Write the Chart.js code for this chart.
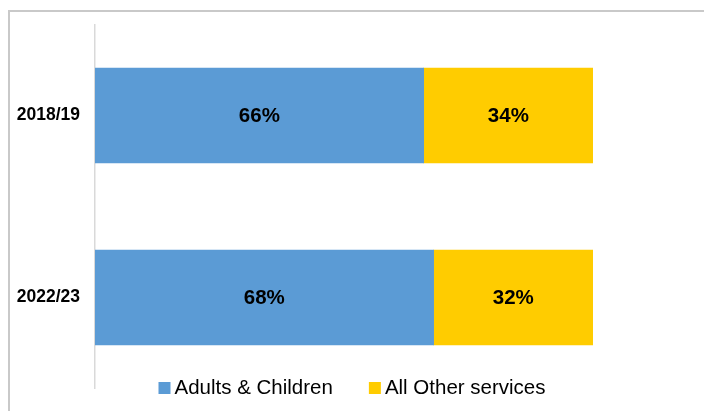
<!DOCTYPE html>
<html>
<head>
<meta charset="utf-8">
<script src="https://cdn.jsdelivr.net/npm/chart.js@4.4.1/dist/chart.umd.min.js"></script>
<style>
  html, body { margin:0; padding:0; background:#fff; }
  #wrap { position:relative; width:704px; height:411px; }
</style>
</head>
<body>
<div id="wrap"><canvas id="shareChart" width="704" height="411"></canvas></div>
<script>
// ----- data -----
const years = ["2018/19", "2022/23"];
const adultsChildren = [66, 68];
const otherServices = [34, 32];
const seriesNames = ["Adults & Children", "All Other services"];
const seriesColors = ["#5B9BD5", "#FFCC00"];

const FONT = "'Liberation Sans', Arial, sans-serif";

// outer frame (left + top edges only show inside the canvas)
const framePlugin = {
  id: "frame",
  beforeDraw(chart){
    const c = chart.ctx;
    c.save();
    c.strokeStyle = "#c9c9c9";
    c.lineWidth = 2;
    c.strokeRect(9, 11, 800, 500);
    c.restore();
  }
};

// percentage text in the middle of every segment
const valueLabels = {
  id: "valueLabels",
  afterDatasetsDraw(chart){
    const c = chart.ctx;
    c.save();
    c.font = "bold 20.5px " + FONT;
    c.fillStyle = "#000";
    c.textAlign = "center";
    c.textBaseline = "middle";
    chart.data.datasets.forEach((ds, i) => {
      chart.getDatasetMeta(i).data.forEach((bar, j) => {
        const mid = (bar.x + bar.base) / 2;
        c.fillText(ds.data[j] + "%", mid, bar.y + 1);
      });
    });
    c.restore();
  }
};

// legend drawn across the bottom, over the axis end
const bottomLegend = {
  id: "bottomLegend",
  afterDraw(chart){
    const c = chart.ctx;
    c.save();
    c.font = "20.5px " + FONT;
    c.textBaseline = "middle";
    const box = 12, gapText = 4, gapItem = 36;
    const items = chart.data.datasets.map(ds => ({ label: ds.label, color: ds.backgroundColor, w: c.measureText(ds.label).width }));
    let total = items.reduce((s, it) => s + box + gapText + it.w, 0) + gapItem * (items.length - 1);
    let x = chart.width / 2 - total / 2;
    const y = 388;
    items.forEach(it => {
      c.fillStyle = it.color;
      c.fillRect(x, y - box / 2, box, box);
      c.fillStyle = "#000";
      c.fillText(it.label, x + box + gapText, y);
      x += box + gapText + it.w + gapItem;
    });
    c.restore();
  }
};

const ctx = document.getElementById("shareChart").getContext("2d");
new Chart(ctx, {
  type: "bar",
  data: {
    labels: years,
    datasets: [
      { label: seriesNames[0], data: adultsChildren, backgroundColor: seriesColors[0] },
      { label: seriesNames[1], data: otherServices, backgroundColor: seriesColors[1] }
    ]
  },
  options: {
    indexAxis: "y",
    responsive: false,
    animation: false,
    layout: { padding: { left: 0, right: 111, top: 24.5, bottom: 22.5 } },
    datasets: { bar: { barThickness: 95, borderWidth: 0 } },
    plugins: { legend: { display: false }, tooltip: { enabled: false } },
    scales: {
      x: { stacked: true, min: 0, max: 100, display: false },
      y: {
        stacked: true,
        afterFit(scale){
          scale.width = 95;
          // labels sit beside their bars, so no overhang is needed above/below
          scale.paddingTop = 0;
          scale.paddingBottom = 0;
        },
        grid: { display: false, drawTicks: false },
        border: { display: true, color: "#d9d9d9", width: 1.5 },
        ticks: { color: "#000", padding: 15, font: { family: FONT, size: 17.5, weight: "bold" } }
      }
    }
  },
  plugins: [framePlugin, valueLabels, bottomLegend]
});
</script>
</body>
</html>
